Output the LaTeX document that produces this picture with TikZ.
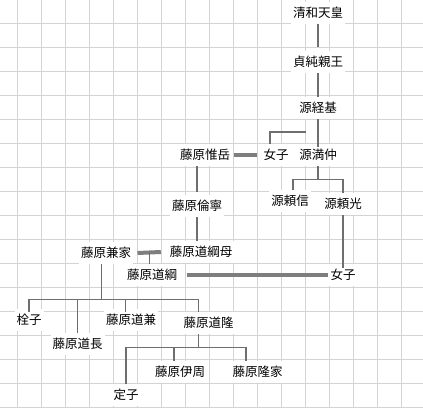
\documentclass[tikz,border=0pt]{standalone}
\usepackage{fontspec}
\newfontfamily\jp{Noto Sans CJK JP}
\usetikzlibrary{calc}
\definecolor{gridc}{HTML}{D3D3D3}
\definecolor{linec}{HTML}{6E6E6E}
\definecolor{marc}{HTML}{7E7E7E}
\definecolor{txtc}{HTML}{000000}
\begin{document}
\begin{tikzpicture}[x=1pt,y=-1pt,
  lbl/.style={fill=white, inner xsep=2pt, inner ysep=4.75pt, text height=10.5pt, text depth=2pt,
    text=txtc, font=\jp\fontsize{12.5}{14}\selectfont},
  link/.style={draw=linec, line width=1.1pt},
  marr/.style={draw=marc, line width=4pt},
  gridline/.style={draw=gridc, line width=0.7pt}]
\useasboundingbox (0,0) rectangle (423,407);
\fill[white] (0,0) rectangle (423,407);
% grid
\foreach \i in {0,...,16} \draw[gridline] ({17.5+24*\i},0) -- ({17.5+24*\i},407);
\foreach \j in {0,...,17} \draw[gridline] (0,{-0.5+24*\j}) -- (423,{-0.5+24*\j});
% people
\node[lbl] (seiwa) at (318,13) {清和天皇};
\node[lbl] (sada) at (318,62) {貞純親王};
\node[lbl] (tsune) at (318,108) {源経基};
\node[lbl] (jo1) at (276,155) {女子};
\node[lbl] (mitsu) at (318,155) {源満仲};
\node[lbl] (kore) at (205,155) {藤原惟岳};
\node[lbl] (tomo) at (197,206) {藤原倫寧};
\node[lbl] (michimo) at (201,252) {藤原道綱母};
\node[lbl] (yorinobu) at (290,201) {源頼信};
\node[lbl] (yorimitsu) at (343,204) {源頼光};
\node[lbl] (jo2) at (343,275) {女子};
\node[lbl] (michitsuna) at (152,275) {藤原道綱};
\node[lbl] (kaneie) at (106,253) {藤原兼家};
\node[lbl] (seishi) at (29,320) {栓子};
\node[lbl] (michinaga) at (77.5,344) {藤原道長};
\node[lbl] (michikane) at (131,320) {藤原道兼};
\node[lbl] (michitaka) at (208.5,323) {藤原道隆};
\node[lbl] (teishi) at (126,395) {定子};
\node[lbl] (korechika) at (180,372) {藤原伊周};
\node[lbl] (takaie) at (257.5,372) {藤原隆家};
% helper coordinates
\coordinate (jb) at (306,132);
\coordinate (mb) at (318,179.3);
\coordinate (km) at (149.3,252);
\coordinate (kb) at (101.5,299.3);
\coordinate (tb) at (198.3,347.7);
\coordinate (d3) at ([xshift=-5.3pt,yshift=-3pt]michikane.north);
\coordinate (d4) at ([xshift=-10.2pt]michitaka.north);
\coordinate (d5) at ([xshift=-6pt]korechika.north);
% connectors
\draw[link] (seiwa.south) -- ([yshift=4.3pt]sada.north);
\draw[link] (sada.south) -- (tsune.north);
\draw[link] (tsune.south) -- ([yshift=-2.7pt]mitsu.north);
\draw[link] (jb) -| ([xshift=-6pt]jo1.north);
\draw[marr] ([xshift=2pt]kore.east) -- ([xshift=-4.5pt]jo1.west);
\draw[link] (kore.south -| tomo.north) -- ([yshift=3pt]tomo.north);
\draw[link] (tomo.south) -- (tomo.south |- michimo.north);
\draw[link] (mitsu.south) -- (mb);
\draw[link] ([xshift=3pt]yorinobu.north) |- (mb) -| (yorimitsu.north);
\draw[link] (yorimitsu.south) -- ([yshift=-4pt]jo2.north);
\draw[marr] ([xshift=7.7pt]michitsuna.east) -- (jo2.west);
\draw[marr] ([xshift=4.3pt]kaneie.east) -- ([xshift=-6.75pt]michimo.west);
\draw[link] (km) -- (km |- michitsuna.north);
\draw[link] ([xshift=-4.5pt]kaneie.south) -- (kb);
\draw[link] ([yshift=-3pt]seishi.north) |- (kb) -| (d4);
\draw[link] (michinaga.north) -- (michinaga.north |- kb);
\draw[link] (d3) -- (d3 |- kb);
\draw[link] ([xshift=-10.2pt]michitaka.south) -- (tb);
\draw[link] (teishi.north) |- (tb) -| ([xshift=-11.5pt]takaie.north);
\draw[link] (d5) -- (d5 |- tb);
\end{tikzpicture}
\end{document}
